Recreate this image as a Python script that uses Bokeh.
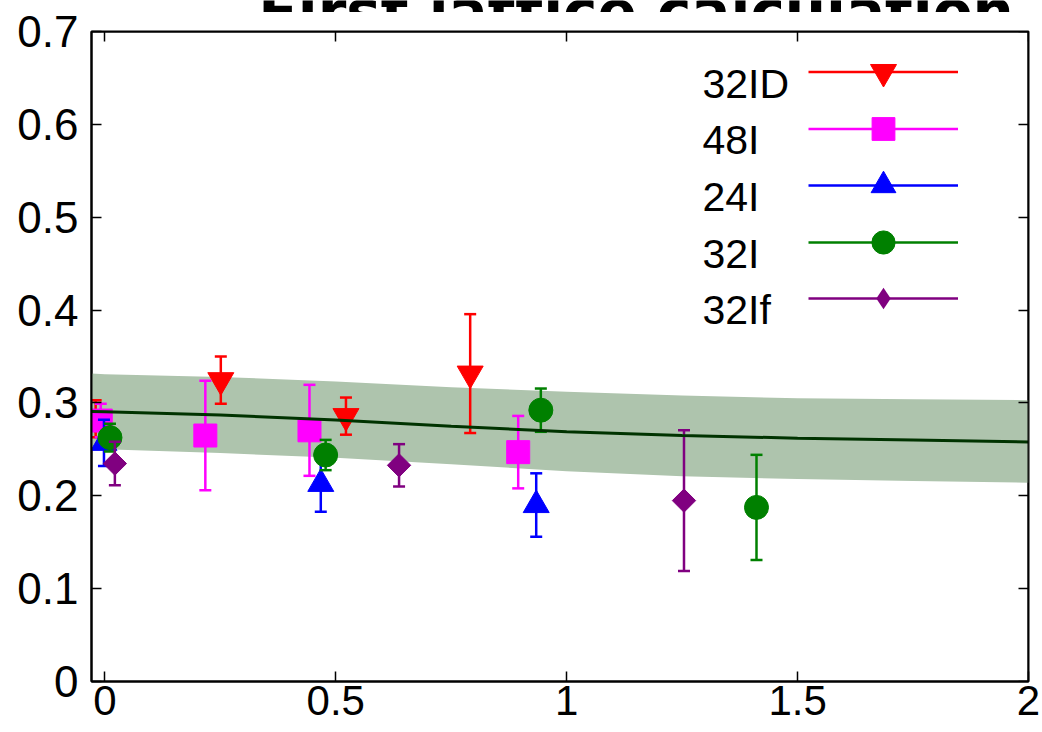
import numpy as np
from bokeh.plotting import figure
from bokeh.layouts import column
from bokeh.models import Range1d, LinearAxis, FixedTicker, Label, Legend, LegendItem, ColumnDataSource
from bokeh.embed import file_html
from bokeh.resources import INLINE

# ---------------- data ----------------
band_x = [-0.029, 0.0, 0.25, 0.5, 0.75, 1.0, 1.25, 1.5, 1.75, 2.0]
band_mid = [0.2908, 0.2905, 0.2870, 0.2815, 0.2750, 0.2690, 0.2650, 0.2620, 0.2600, 0.2580]
band_hi = [0.3316, 0.3310, 0.3280, 0.3230, 0.3170, 0.3120, 0.3080, 0.3050, 0.3040, 0.3030]
band_lo = [0.2508, 0.2500, 0.2460, 0.2410, 0.2340, 0.2265, 0.2210, 0.2180, 0.2160, 0.2140]

names = ["32ID", "48I", "24I", "32I", "32If"]

x_32ID = [-0.020, 0.251, 0.522, 0.791]
y_32ID = [0.283, 0.3245, 0.2858, 0.3316]
e_32ID = [0.020, 0.0255, 0.020, 0.064]

x_48I = [-0.009, 0.2175, 0.443, 0.895]
y_48I = [0.281, 0.2649, 0.2705, 0.247]
e_48I = [0.018, 0.059, 0.049, 0.039]

x_24I = [-0.002, 0.4675, 0.934]
y_24I = [0.257, 0.2128, 0.190]
e_24I = [0.0248, 0.030, 0.0342]

x_32I = [0.011, 0.478, 0.944, 1.411]
y_32I = [0.2627, 0.2439, 0.2922, 0.1875]
e_32I = [0.015, 0.0163, 0.0233, 0.0566]

x_32If = [0.0216, 0.637, 1.254]
y_32If = [0.2347, 0.2328, 0.1948]
e_32If = [0.0234, 0.0228, 0.0758]

x_ticks = [0, 0.5, 1, 1.5, 2]
x_tick_labels = ["0", "0.5", "1", "1.5", "2"]
y_ticks = [0, 0.1, 0.2, 0.3, 0.4, 0.5, 0.6, 0.7]
y_tick_labels = ["0", "0.1", "0.2", "0.3", "0.4", "0.5", "0.6", "0.7"]

title_text = "First lattice calculation"

TICK_FONT = "Liberation Sans"
FW, FH = 937, 650
BL, BR = 91, 14

# ---------------- title strip (the reference shows only the bottom of the title) ----------------
TH = 12
tfig = figure(frame_width=FW, frame_height=TH, x_range=Range1d(0, 1), y_range=Range1d(0, 1),
              output_backend="svg", toolbar_location=None,
              x_axis_location=None, y_axis_location=None,
              min_border_left=BL, min_border_right=BR, min_border_top=0, min_border_bottom=0)
tfig.grid.visible = False
tfig.outline_line_color = None
tfig.add_layout(Label(x=544.5, y=0.5, x_units="screen", y_units="screen",
                      text=title_text, text_font="DejaVu Sans", text_font_style="bold",
                      text_font_size="58px", text_color="black",
                      text_align="center", text_baseline="alphabetic"))

# ---------------- main figure ----------------
p = figure(frame_width=FW, frame_height=FH,
           x_range=Range1d(-0.029, 2.0), y_range=Range1d(0, 0.7),
           output_backend="svg", toolbar_location=None,
           x_axis_location="below", y_axis_location="left",
           min_border_left=BL, min_border_right=BR, min_border_top=31 - TH, min_border_bottom=51)
p.grid.visible = False
p.outline_line_color = "black"
p.outline_line_width = 2
p.background_fill_color = "white"


def style_axis(ax, show_labels=True, size="44px"):
    ax.axis_line_color = "black"
    ax.axis_line_width = 2
    ax.major_tick_in = 10
    ax.major_tick_out = 0
    ax.major_tick_line_width = 1.5
    ax.major_tick_line_color = "black"
    ax.minor_tick_line_color = None
    ax.major_label_text_font = TICK_FONT
    ax.major_label_text_color = "black"
    ax.major_label_text_font_size = size
    if not show_labels:
        ax.major_label_text_color = None
        ax.major_label_standoff = 0

# left y axis
yax = p.yaxis[0]
yax.ticker = FixedTicker(ticks=y_ticks)
yax.major_label_overrides = {t: l for t, l in zip(y_ticks, y_tick_labels)}
style_axis(yax)
yax.major_label_standoff = 13

# bottom x axis
xax = p.xaxis[0]
xax.ticker = FixedTicker(ticks=x_ticks)
xax.major_label_overrides = {t: l for t, l in zip(x_ticks, x_tick_labels)}
style_axis(xax, size="42px")
xax.major_label_standoff = 4

# mirror axes (ticks only, no layout space)
tax = LinearAxis(ticker=FixedTicker(ticks=x_ticks), fixed_location=0.7)
style_axis(tax, show_labels=False)
p.add_layout(tax, "above")
rax = LinearAxis(ticker=FixedTicker(ticks=y_ticks), fixed_location=2.0)
style_axis(rax, show_labels=False)
p.add_layout(rax, "right")

# fit band
p.varea(x=band_x, y1=band_lo, y2=band_hi, fill_color="#aec4ad", fill_alpha=1.0)

series = [
    ("32ID", x_32ID, y_32ID, e_32ID, "#ff0000", "inverted_triangle", 26, 0.0, "inverted_triangle", 65),
    ("48I", x_48I, y_48I, e_48I, "#ff00ff", "square", 23, 0.0, "square", 57),
    ("24I", x_24I, y_24I, e_24I, "#0000ff", "triangle", 26, 0.0, "triangle", 62),
    ("32I", x_32I, y_32I, e_32I, "#008000", "circle", 24, 0.0, "circle", 58),
    ("32If", x_32If, y_32If, e_32If, "#800080", "square", 16.5, np.pi / 4, "diamond", 54),
]

legend_entries = []
for name, xs, ys, es, col, mk, sz, ang, lmk, lh in series:
    xs = np.array(xs); ys = np.array(ys); es = np.array(es)
    seg = p.segment(x0=xs, y0=ys - es, x1=xs, y1=ys + es, line_color=col, line_width=2.5)
    p.scatter(x=np.concatenate([xs, xs]), y=np.concatenate([ys - es, ys + es]),
              marker="dash", size=12, line_color=col, line_width=2.5)
    src = ColumnDataSource(dict(x=xs, y=ys))
    mr = p.scatter(x="x", y="y", source=src, marker=mk, size=sz, angle=ang,
                   fill_color=col, line_color=col, line_width=1)
    if lmk != mk:
        # legend sample glyph: same points at zero size (invisible in the plot);
        # the legend draws its sample at its own size
        mr = p.scatter(x="x", y="y", source=src, marker=lmk, size=0,
                       fill_color=col, line_color=None)
    legend_entries.append((name, seg, mr, lh))

# central fit curve on top
p.line(band_x, band_mid, line_color="#003300", line_width=3)

# ---------------- legend (label on the left, sample on the right) ----------------
leg_x = 717          # glyph area left, px from frame left
leg_c0 = 609.3       # first row centre, px from frame bottom
leg_pitch = 56.65
lab_x = 611
lab_b0 = 597.7       # first label baseline, px from frame bottom
for i, (name, seg, mr, lh) in enumerate(legend_entries):
    cy = leg_c0 - i * leg_pitch
    lg = Legend(items=[LegendItem(label=" ", renderers=[seg, mr])],
                location=(leg_x, cy - lh / 2.0), glyph_width=150, glyph_height=int(lh),
                padding=0, margin=0, spacing=0, label_width=0, label_height=0,
                label_standoff=0, label_text_font_size="1px",
                background_fill_alpha=0, border_line_alpha=0)
    p.add_layout(lg)
    p.add_layout(Label(x=lab_x, y=lab_b0 - i * leg_pitch, x_units="screen", y_units="screen",
                       text=name, text_font=TICK_FONT, text_font_size="41px",
                       text_color="black", text_baseline="alphabetic", text_align="left"))

layout = column(tfig, p, spacing=0)
open("out.html", "w").write(file_html(layout, INLINE))
